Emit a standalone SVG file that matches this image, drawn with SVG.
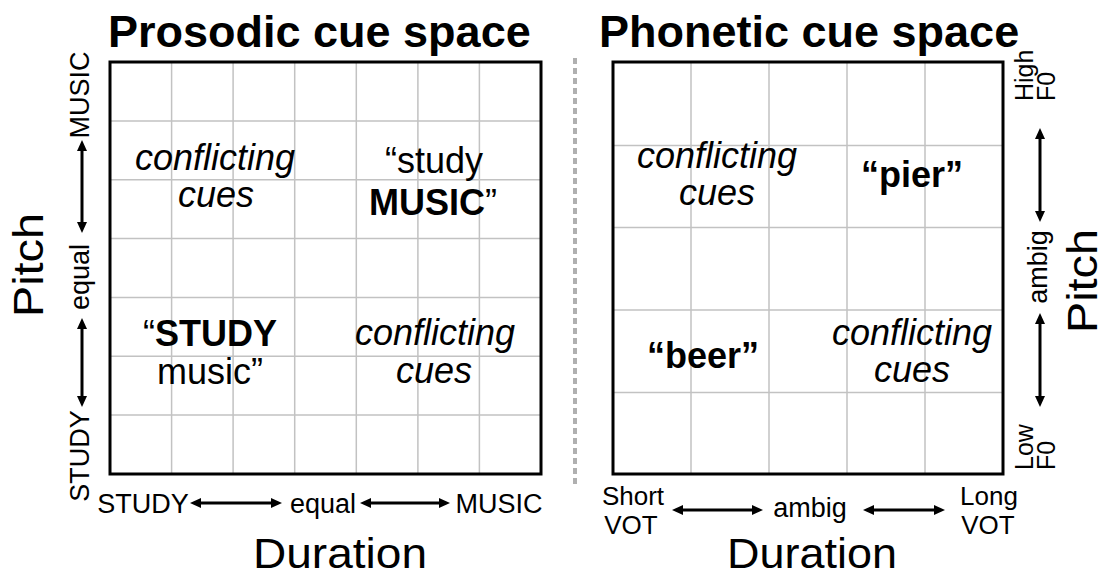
<svg xmlns="http://www.w3.org/2000/svg" width="1105" height="575" viewBox="0 0 1105 575">
<style>
text{font-family:"Liberation Sans",Arial,Helvetica,sans-serif;fill:#000}
.title{font-size:45px;font-weight:bold}
.big{font-size:42px}
.body{font-size:36px;text-anchor:middle}
.it{font-style:italic}
.b{font-weight:bold}
.ax{font-size:27px}
.axm{font-size:26px}
.axs{font-size:25px}
.mid{text-anchor:middle}
.grid{stroke:#c2c2c2;stroke-width:1.5;fill:none}
.frame{stroke:#000;stroke-width:3;fill:none}
.arr{stroke:#000;stroke-width:3;fill:none;marker-start:url(#ah);marker-end:url(#ah)}
.sep{stroke:#b0b0b0;stroke-width:4;stroke-dasharray:6 4;fill:none}
</style>
<defs>
<marker id="ah" markerUnits="userSpaceOnUse" markerWidth="11" markerHeight="10" refX="2" refY="5" orient="auto-start-reverse" viewBox="0 0 11 10">
<path d="M0,0 L11,5 L0,10 z" fill="#000"/>
</marker>
</defs>
<rect width="1105" height="575" fill="#fff"/>

<g id="prosodic-panel">
<text class="title" x="108" y="47">Prosodic cue space</text>
<g class="grid">
<path d="M171.6,62V474M233.1,62V474M294.7,62V474M356.3,62V474M417.9,62V474M479.4,62V474"/>
<path d="M110,120.9H541M110,179.7H541M110,238.6H541M110,297.4H541M110,356.3H541M110,415.1H541"/>
</g>
<rect class="frame" x="110" y="62" width="431" height="412"/>
</g>

<g id="prosodic-ul">
<text class="body it" x="215" y="170">conflicting</text>
<text class="body it" x="216" y="207">cues</text>
</g>
<g id="prosodic-ur">
<text class="body" x="434" y="173">“study</text>
<text class="body" x="433" y="215"><tspan class="b">MUSIC</tspan>”</text>
</g>
<g id="prosodic-ll">
<text class="body" x="210" y="346">“<tspan class="b">STUDY</tspan></text>
<text class="body" x="210" y="384">music”</text>
</g>
<g id="prosodic-lr">
<text class="body it" x="435" y="345">conflicting</text>
<text class="body it" x="434" y="383">cues</text>
</g>

<g id="prosodic-x-axis">
<text class="ax mid" x="143" y="513">STUDY</text>
<text class="ax mid" x="323" y="513">equal</text>
<text class="ax mid" x="499" y="513">MUSIC</text>
<text class="big mid" x="340" y="568" textLength="174" lengthAdjust="spacingAndGlyphs">Duration</text>
</g>
<g id="prosodic-y-axis">
<text class="ax mid" transform="translate(89,95) rotate(-90)">MUSIC</text>
<text class="ax mid" transform="translate(89,277) rotate(-90)">equal</text>
<text class="ax mid" transform="translate(89,456) rotate(-90)">STUDY</text>
<text class="big mid" transform="translate(43,265) rotate(-90)" textLength="104" lengthAdjust="spacingAndGlyphs">Pitch</text>
</g>

<line id="separator" class="sep" x1="575" y1="58" x2="575" y2="487"/>

<g id="phonetic-panel">
<text class="title" x="599" y="47">Phonetic cue space</text>
<g class="grid">
<path d="M691,62V474M769,62V474M847,62V474M925,62V474"/>
<path d="M613,145.5H1003M613,227.5H1003M613,310H1003M613,392.5H1003"/>
</g>
<rect class="frame" x="613" y="62" width="390" height="412"/>
</g>

<g id="phonetic-ul">
<text class="body it" x="717" y="168">conflicting</text>
<text class="body it" x="717" y="205">cues</text>
</g>
<g id="phonetic-ur">
<text class="body b" x="912" y="187">“pier”</text>
</g>
<g id="phonetic-ll">
<text class="body b" x="703" y="368">“beer”</text>
</g>
<g id="phonetic-lr">
<text class="body it" x="912" y="345">conflicting</text>
<text class="body it" x="912" y="382">cues</text>
</g>

<g id="phonetic-x-axis">
<text class="axm mid" x="633" y="505">Short</text>
<text class="axm mid" x="631" y="534">VOT</text>
<text class="ax mid" x="810" y="517">ambig</text>
<text class="axm mid" x="989" y="505">Long</text>
<text class="axm mid" x="988" y="534">VOT</text>
<text class="big mid" x="812" y="568" textLength="170" lengthAdjust="spacingAndGlyphs">Duration</text>
</g>
<g id="phonetic-y-axis">
<text class="axs" transform="translate(1033,101) rotate(-90)">High</text>
<text class="axs" transform="translate(1055,101) rotate(-90)">F0</text>
<text class="ax mid" transform="translate(1047,267) rotate(-90)">ambig</text>
<text class="axs" transform="translate(1033,470) rotate(-90)">Low</text>
<text class="axs" transform="translate(1055,470) rotate(-90)">F0</text>
<text class="big mid" transform="translate(1097,281) rotate(-90)" textLength="104" lengthAdjust="spacingAndGlyphs">Pitch</text>
</g>

<g id="connectors">
<line class="arr" x1="199" y1="503" x2="273" y2="503"/>
<line class="arr" x1="369" y1="503" x2="441" y2="503"/>
<line class="arr" x1="82" y1="149" x2="82" y2="224"/>
<line class="arr" x1="82" y1="327" x2="82" y2="398"/>
<line class="arr" x1="681" y1="510" x2="754" y2="510"/>
<line class="arr" x1="872" y1="510" x2="936" y2="510"/>
<line class="arr" x1="1040" y1="137" x2="1040" y2="213"/>
<line class="arr" x1="1040" y1="322" x2="1040" y2="398"/>
</g>
</svg>
